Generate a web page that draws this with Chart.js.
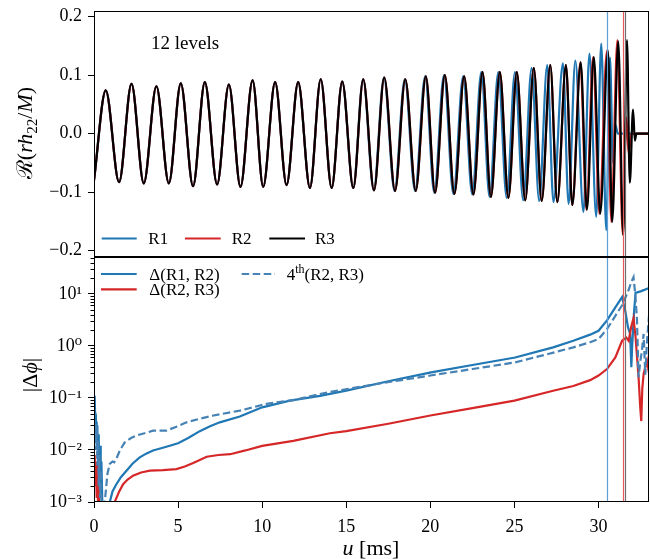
<!DOCTYPE html>
<html><head><meta charset="utf-8">
<script src="https://cdn.jsdelivr.net/npm/chart.js@4"></script>
<style>
html,body{margin:0;padding:0;background:#fff;}
#wrap{position:relative;width:650px;height:559px;overflow:hidden;background:#fff}
#c1{position:absolute;left:0;top:0}
#c2{position:absolute;left:0;top:257px}
</style></head><body>
<div id="wrap"><canvas id="c1" width="650" height="257"></canvas><canvas id="c2" width="650" height="302"></canvas></div>
<script>
// ---------- data ----------
const xTicks = [0, 5, 10, 15, 20, 25, 30];
const topYTicks = [-0.2, -0.1, 0.0, 0.1, 0.2];
const logYTicks = [1e-3, 1e-2, 1e-1, 1, 10];
const mergerTimes = [30.5, 31.43, 31.6];
const topLabels = ['R1', 'R2', 'R3'];
const bottomLabels = ['Δ(R1, R2)', 'Δ(R2, R3)', '4th(R2, R3)'];
const annotationText = '12 levels';

// waveform extrema, u [ms] and Re(r h22 / M)
const tR1 = [0.00,0.70,1.49,2.23,2.96,3.71,4.45,5.16,5.89,6.59,7.32,8.02,8.71,9.43,10.06,10.77,11.45,12.14,12.84,13.48,14.13,14.76,15.41,16.00,16.63,17.24,17.87,18.48,19.09,19.69,20.23,20.81,21.37,21.95,22.49,23.03,23.52,24.04,24.54,25.03,25.52,26.02,26.47,26.95,27.32,27.88,28.22,28.62,29.10,29.46,29.86,30.16,30.46,30.68,30.86,31.00,31.15,33.00];
const hR1 = [-0.080,0.074,-0.083,0.085,-0.085,0.081,-0.085,0.086,-0.090,0.088,-0.087,0.084,-0.091,0.091,-0.091,0.088,-0.088,0.088,-0.093,0.093,-0.093,0.089,-0.093,0.093,-0.097,0.096,-0.098,0.093,-0.098,0.098,-0.101,0.100,-0.103,0.098,-0.104,0.105,-0.108,0.105,-0.110,0.105,-0.114,0.112,-0.115,0.117,-0.117,0.120,-0.120,0.125,-0.134,0.137,-0.142,0.154,-0.165,0.130,-0.050,0.015,0.000,0.000];
const tR2 = [0.00,0.70,1.49,2.23,2.96,3.71,4.45,5.16,5.89,6.59,7.32,8.02,8.71,9.43,10.06,10.77,11.45,12.14,12.84,13.48,14.13,14.76,15.42,16.01,16.65,17.26,17.90,18.51,19.13,19.73,20.28,20.86,21.43,22.01,22.56,23.10,23.60,24.13,24.64,25.14,25.64,26.15,26.62,27.13,27.55,28.06,28.44,28.92,29.28,29.68,30.05,30.50,30.76,31.12,31.44,31.64,31.80,31.95,33.00];
const hR2 = [-0.080,0.074,-0.083,0.085,-0.085,0.081,-0.085,0.086,-0.090,0.088,-0.087,0.084,-0.091,0.091,-0.091,0.088,-0.088,0.088,-0.093,0.093,-0.093,0.089,-0.093,0.093,-0.097,0.096,-0.098,0.093,-0.098,0.098,-0.101,0.100,-0.103,0.098,-0.104,0.105,-0.108,0.105,-0.110,0.105,-0.114,0.112,-0.115,0.117,-0.117,0.117,-0.122,0.122,-0.130,0.131,-0.137,0.142,-0.151,0.160,-0.172,0.028,-0.035,0.000,0.000];
const tR3 = [0.00,0.70,1.49,2.23,2.96,3.71,4.45,5.16,5.89,6.59,7.32,8.02,8.71,9.43,10.06,10.77,11.45,12.14,12.84,13.48,14.13,14.76,15.42,16.01,16.65,17.26,17.90,18.51,19.13,19.73,20.28,20.86,21.43,22.01,22.56,23.10,23.60,24.13,24.64,25.14,25.64,26.15,26.62,27.13,27.55,28.06,28.44,28.94,29.31,29.72,30.10,30.56,30.81,31.17,31.47,31.69,31.86,32.05,32.16,32.25,33.00];
const hR3 = [-0.080,0.074,-0.083,0.085,-0.085,0.081,-0.085,0.086,-0.090,0.088,-0.087,0.084,-0.091,0.091,-0.091,0.088,-0.088,0.088,-0.093,0.093,-0.093,0.089,-0.093,0.093,-0.097,0.096,-0.098,0.093,-0.098,0.098,-0.101,0.100,-0.103,0.098,-0.104,0.105,-0.108,0.105,-0.110,0.105,-0.114,0.112,-0.115,0.117,-0.117,0.117,-0.122,0.122,-0.130,0.131,-0.137,0.142,-0.151,0.158,-0.174,0.160,-0.084,0.041,-0.012,0.000,0.000];

// phase differences |Δφ|
const tD12 = [0.00,0.04,0.08,0.12,0.16,0.20,0.24,0.28,0.32,0.36,0.40,0.44,0.50,0.60,0.80,0.94,1.10,1.33,1.60,1.93,2.30,2.72,3.10,3.51,4.20,5.00,5.60,6.29,6.90,7.48,8.67,10.00,11.65,13.44,15.00,17.50,20.04,22.50,25.04,27.30,28.50,29.50,30.00,30.50,31.00,31.40,31.60,31.75,31.88,31.95,32.00,32.10,32.20,32.50,33.00];
const vD12 = [0.030,0.110,0.030,0.035,0.012,0.030,0.004,0.020,0.002,0.012,0.0015,0.006,0.0008,0.0004,0.0004,0.0010,0.0016,0.0022,0.0030,0.0040,0.0055,0.0072,0.0085,0.0098,0.0113,0.0135,0.0170,0.0230,0.0285,0.0340,0.0440,0.066,0.089,0.110,0.138,0.21,0.31,0.43,0.60,0.94,1.26,1.65,1.96,3.1,5.5,8.7,4.5,2.3,1.7,0.39,1.0,4.0,10.5,11.2,13.0];
const tD23 = [0.00,0.04,0.08,0.12,0.16,0.20,0.24,0.28,0.32,0.60,1.00,1.23,1.50,1.73,2.00,2.32,2.80,3.32,4.10,4.90,5.40,5.90,6.70,7.40,8.10,9.00,10.00,11.85,14.03,15.00,17.50,20.00,22.50,25.00,27.30,28.50,29.50,30.00,30.50,31.00,31.40,31.65,31.79,31.95,32.08,32.20,32.38,32.48,32.54,32.60,32.68,32.88,32.98,33.00];
const vD23 = [0.005,0.008,0.002,0.006,0.0012,0.004,0.0009,0.002,0.0005,0.0003,0.0004,0.0010,0.0016,0.0022,0.0027,0.0032,0.0037,0.0040,0.0041,0.0043,0.0048,0.0056,0.0074,0.0080,0.0083,0.0098,0.0120,0.0150,0.0210,0.023,0.032,0.046,0.064,0.089,0.138,0.17,0.22,0.27,0.36,0.60,1.26,1.45,1.26,2.4,3.4,1.5,0.25,0.066,0.036,0.15,0.29,0.52,0.33,0.30];
const t4th = [0.00,0.04,0.08,0.12,0.16,0.20,0.24,0.28,0.32,0.36,0.40,0.45,0.55,0.64,0.80,0.94,1.10,1.20,1.33,1.55,1.83,2.20,2.52,3.00,3.51,4.30,4.90,5.50,6.30,7.10,8.67,10.26,11.85,14.00,17.00,20.00,22.50,25.00,27.00,28.50,29.50,30.00,30.50,31.00,31.39,31.75,31.95,32.08,32.18,32.28,32.38,32.48,32.58,32.68,32.78,32.88,32.98,33.00];
const v4th = [0.10,0.030,0.035,0.010,0.030,0.005,0.015,0.002,0.008,0.0012,0.004,0.0006,0.0004,0.0010,0.0035,0.0054,0.0060,0.0058,0.0068,0.0100,0.0140,0.0170,0.0190,0.0210,0.0235,0.0235,0.0280,0.0340,0.0400,0.0460,0.0570,0.077,0.091,0.13,0.19,0.27,0.36,0.48,0.70,0.94,1.18,1.36,2.1,3.8,6.0,11,17,21,10,3.5,0.25,0.5,0.81,1.7,0.28,1.2,3.1,2.8];

// ---------- helpers ----------
const FAM = '"Liberation Serif", "DejaVu Serif", serif';
const C0 = '#1f77b4', C3 = '#d62728', CD = '#4682b4';
const mergerColors = ['#5d9fd6', '#e85a5a', '#6e6e6e'];
function zip(t, v) { return t.map((x, i) => ({ x: x, y: v[i] })); }
function fontStr(s, base) { return (s.i ? 'italic ' : '') + (s.s || base) + 'px ' + (s.f || FAM); }
function drawRich(ctx, segs, x, y, base, align, rotate) {
  ctx.save();
  ctx.translate(x, y);
  if (rotate) ctx.rotate(-Math.PI / 2);
  let total = 0;
  segs.forEach(s => { ctx.font = fontStr(s, base); s.w = ctx.measureText(s.t).width; total += s.w; });
  let cx = align === 'center' ? -total / 2 : 0;
  ctx.textAlign = 'left'; ctx.textBaseline = 'alphabetic'; ctx.fillStyle = '#000';
  segs.forEach(s => { ctx.font = fontStr(s, base); ctx.fillText(s.t, cx, (s.dy || 0)); cx += s.w; });
  ctx.restore();
}
const supMap = { '-': '⁻', '0': '⁰', '1': '¹', '2': '²', '3': '³' };
function supStr(n) { return String(n).split('').map(c => supMap[c]).join(''); }
function noPad(s) { s.paddingTop = 0; s.paddingBottom = 0; s.paddingLeft = 0; s.paddingRight = 0; }

const framePlugin = {
  id: 'frame',
  afterDatasetsDraw(chart) {
    const ctx = chart.ctx, a = chart.chartArea, xs = chart.scales.x;
    ctx.save();
    ctx.beginPath(); ctx.rect(a.left, a.top, a.right - a.left, a.bottom - a.top); ctx.clip();
    mergerTimes.forEach((t, i) => {
      const px = Math.round(xs.getPixelForValue(t)) + 0.5;
      ctx.strokeStyle = mergerColors[i]; ctx.lineWidth = 1.2;
      ctx.beginPath(); ctx.moveTo(px, a.top); ctx.lineTo(px, a.bottom); ctx.stroke();
    });
    ctx.restore();
    ctx.save();
    ctx.strokeStyle = '#000'; ctx.lineWidth = 1;
    const L = Math.round(a.left) + 0.5, R = Math.round(a.right) - 0.5, T = Math.round(a.top) + 0.5, B = Math.round(a.bottom) - 0.5;
    ctx.strokeRect(L, T, R - L, B - T);
    ctx.restore();
  }
};

function drawLegendEntry(ctx, ds, x0, x1, tx, y, segs) {
  ctx.save();
  ctx.strokeStyle = ds.borderColor; ctx.lineWidth = 2.2;
  ctx.setLineDash(ds.borderDash || []);
  ctx.beginPath(); ctx.moveTo(x0, y); ctx.lineTo(x1, y); ctx.stroke();
  ctx.restore();
  drawRich(ctx, segs, tx, y + 5.5, 17, 'left', false);
}

const topText = {
  id: 'topText',
  afterDraw(chart) {
    const ctx = chart.ctx, d = chart.data.datasets;
    drawRich(ctx, [{ t: annotationText }], 151, 48.5, 19, 'left', false);
    const pos = [[101.7, 136.7, 148.3], [185, 220.7, 231.7], [269.3, 305, 315]];
    pos.forEach((p, i) => drawLegendEntry(ctx, d[i], p[0], p[1], p[2], 238.5, [{ t: d[i].label }]));
    drawRich(ctx, [
      { t: 'ℛ', f: '"DejaVu Serif", serif' }, { t: '(' }, { t: 'rh', i: true },
      { t: '22', s: 15, dy: 5 }, { t: '/' }, { t: 'M', i: true }, { t: ')' }
    ], 32, 133, 22, 'center', true);
  }
};

const minorTicks = {
  id: 'minorTicks',
  afterDraw(chart) {
    const ctx = chart.ctx, ys = chart.scales.y, a = chart.chartArea;
    ctx.save(); ctx.strokeStyle = '#000'; ctx.lineWidth = 1;
    for (let e = -3; e <= 1; e++) {
      for (let k = 2; k <= 9; k++) {
        const v = k * Math.pow(10, e);
        if (v > ys.max) continue;
        const py = Math.round(ys.getPixelForValue(v)) + 0.5;
        ctx.beginPath(); ctx.moveTo(a.left - 3.5, py); ctx.lineTo(a.left, py); ctx.stroke();
      }
    }
    ctx.restore();
  }
};

const bottomText = {
  id: 'bottomText',
  afterDraw(chart) {
    const ctx = chart.ctx, d = chart.data.datasets;
    drawLegendEntry(ctx, d[0], 101, 136.7, 149.3, 17, [{ t: d[0].label }]);
    drawLegendEntry(ctx, d[1], 101, 136.7, 149.3, 32.3, [{ t: d[1].label }]);
    const lab = d[2].label;
    drawLegendEntry(ctx, d[2], 241.7, 275, 286.7, 17, [{ t: lab.slice(0, 1) }, { t: lab.slice(1, 3), s: 12, dy: -7 }, { t: lab.slice(3) }]);
    drawRich(ctx, [{ t: '|Δ' }, { t: 'ϕ', i: true }, { t: '|' }], 37, 118, 22, 'center', true);
    drawRich(ctx, [{ t: 'u', i: true }, { t: ' [ms]' }], 371, 298, 22, 'center', false);
  }
};

const tickFont = { family: FAM, size: 18 };
const gridOpts = { drawOnChartArea: false, drawTicks: true, tickLength: 6, tickColor: '#000', tickWidth: 1 };

new Chart(document.getElementById('c1'), {
  type: 'line',
  data: {
    datasets: [
      { label: topLabels[0], data: zip(tR1, hR1), order: 2, borderColor: C0, borderWidth: 2.2, pointRadius: 0, cubicInterpolationMode: 'monotone', fill: false },
      { label: topLabels[1], data: zip(tR2, hR2), order: 1, borderColor: C3, borderWidth: 2.2, pointRadius: 0, cubicInterpolationMode: 'monotone', fill: false },
      { label: topLabels[2], data: zip(tR3, hR3), order: 0, borderColor: '#000', borderWidth: 2.2, pointRadius: 0, cubicInterpolationMode: 'monotone', fill: false }
    ]
  },
  options: {
    responsive: false, animation: false, events: [],
    layout: { padding: { top: 11, right: 1, left: 0, bottom: 0 } },
    plugins: { legend: { display: false }, tooltip: { enabled: false } },
    scales: {
      x: { type: 'linear', min: 0, max: 33, display: false },
      y: {
        type: 'linear', min: -0.211, max: 0.2097,
        afterFit(s) { s.width = 94; noPad(s); },
        afterBuildTicks(s) { s.ticks = topYTicks.map(v => ({ value: v })); },
        ticks: { font: tickFont, color: '#000', padding: 6, callback: v => (v < -1e-9 ? '−' : '') + Math.abs(v).toFixed(1) },
        grid: gridOpts, border: { display: false }
      }
    }
  },
  plugins: [framePlugin, topText]
});

new Chart(document.getElementById('c2'), {
  type: 'line',
  data: {
    datasets: [
      { label: bottomLabels[0], data: zip(tD12, vD12), order: 2, borderColor: C0, borderWidth: 2.2, pointRadius: 0, tension: 0, fill: false },
      { label: bottomLabels[1], data: zip(tD23, vD23), order: 1, borderColor: C3, borderWidth: 2.2, pointRadius: 0, tension: 0, fill: false },
      { label: bottomLabels[2], data: zip(t4th, v4th), order: 0, borderColor: CD, borderWidth: 2.2, borderDash: [7.5, 3.5], pointRadius: 0, tension: 0, fill: false }
    ]
  },
  options: {
    responsive: false, animation: false, events: [],
    layout: { padding: { top: 0, right: 1, left: 0, bottom: 0 } },
    plugins: { legend: { display: false }, tooltip: { enabled: false } },
    scales: {
      x: {
        type: 'linear', min: 0, max: 33,
        afterFit(s) { s.height = 57; noPad(s); },
        afterBuildTicks(s) { s.ticks = xTicks.map(v => ({ value: v })); },
        ticks: { font: tickFont, color: '#000', padding: 8, maxRotation: 0, autoSkip: false, callback: v => String(v) },
        grid: gridOpts, border: { display: false }
      },
      y: {
        type: 'logarithmic', min: 1e-3, max: 51.3,
        afterFit(s) { s.width = 94; noPad(s); },
        afterBuildTicks(s) { s.ticks = logYTicks.map(v => ({ value: v })); },
        ticks: { font: tickFont, color: '#000', padding: 6, callback: v => '10' + supStr(Math.round(Math.log10(v))) },
        grid: gridOpts, border: { display: false }
      }
    }
  },
  plugins: [framePlugin, minorTicks, bottomText]
});
</script>
</body></html>
